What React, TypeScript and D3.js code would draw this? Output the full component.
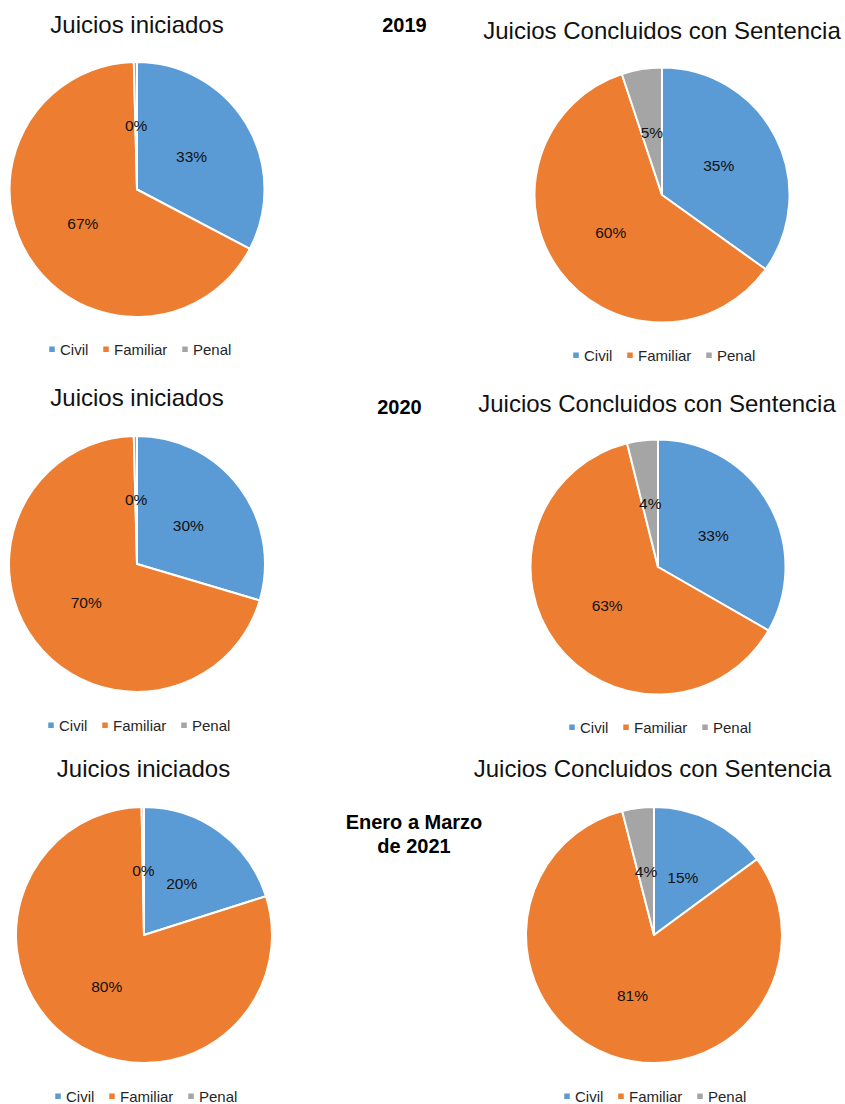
import React from "react";
import * as d3 from "d3";

// ---- Data ----
const categories = ["Civil", "Familiar", "Penal"];
const colors = ["#5B9BD5", "#ED7D31", "#A5A5A5"];

const iniciados2019 = [32.7, 66.9, 0.4];
const concluidos2019 = [34.9, 60.0, 5.1];
const iniciados2020 = [29.6, 70.0, 0.4];
const concluidos2020 = [33.3, 62.8, 3.9];
const iniciados2021 = [20.1, 79.6, 0.3];
const concluidos2021 = [14.9, 81.1, 4.0];

const chartTitles = ["Juicios iniciados", "Juicios Concluidos con Sentencia"];
const periodLabels = [["2019"], ["2020"], ["Enero a Marzo", "de 2021"]];

// ---- Layout ----
const W = 845;
const H = 1104;
const FONT = "'Liberation Sans', Arial, Helvetica, sans-serif";

const panels = [
  { values: iniciados2019, title: 0, cx: 137, cy: 189.5, r: 127.5, tx: 137, ty: 33, lx: 52, ly: 355 },
  { values: concluidos2019, title: 1, cx: 662, cy: 195, r: 127.5, tx: 662, ty: 39, lx: 576, ly: 361 },
  { values: iniciados2020, title: 0, cx: 137, cy: 564, r: 128, tx: 137, ty: 406, lx: 51, ly: 731 },
  { values: concluidos2020, title: 1, cx: 658, cy: 567, r: 127.5, tx: 657, ty: 412, lx: 572, ly: 733 },
  { values: iniciados2021, title: 0, cx: 144, cy: 935, r: 128, tx: 143.5, ty: 777, lx: 58, ly: 1102 },
  { values: concluidos2021, title: 1, cx: 654, cy: 935, r: 128, tx: 652.5, ty: 777, lx: 567, ly: 1102 },
];

const periodPos = [
  { x: 404.5, y: 32 },
  { x: 399.5, y: 414 },
  { x: 414, y: 829 },
];

const legendOffsets = [0, 54, 133];

function Pie({ p }: { p: any }) {
  const pieGen = d3.pie<number>().sort(null).value((d) => d);
  const arcs = pieGen(p.values);
  const arcGen = d3.arc<any>().innerRadius(0).outerRadius(p.r);
  const total = d3.sum(p.values);
  return (
    <g>
      <text
        x={p.tx}
        y={p.ty}
        textAnchor="middle"
        fontSize={24}
        fill="#111"
        fontFamily={FONT}
      >
        {chartTitles[p.title]}
      </text>
      <g transform={`translate(${p.cx},${p.cy})`}>
        {arcs.map((a, i) => (
          <path
            key={i}
            d={arcGen(a) as string}
            fill={colors[i]}
            stroke="#fff"
            strokeWidth={2}
            strokeLinejoin="round"
          />
        ))}
        {arcs.map((a, i) => {
          const [x, y] = arcGen.centroid(a);
          return (
            <text
              key={"l" + i}
              x={x}
              y={y}
              dy="0.35em"
              textAnchor="middle"
              fontSize={15.5}
              fill="#111"
              fontFamily={FONT}
            >
              {Math.round((a.data / total) * 100) + "%"}
            </text>
          );
        })}
      </g>
      <g transform={`translate(${p.lx},${p.ly})`}>
        {categories.map((c, i) => (
          <g key={c} transform={`translate(${legendOffsets[i]},0)`}>
            <rect x={-2.75} y={-8.5} width={5.5} height={5.5} fill={colors[i]} />
            <text x={8} y={0} fontSize={15} fill="#262626" fontFamily={FONT}>
              {c}
            </text>
          </g>
        ))}
      </g>
    </g>
  );
}

export default function App() {
  return (
    <svg
      width={W}
      height={H}
      viewBox={`0 0 ${W} ${H}`}
      style={{ position: "absolute", left: 0, top: 0, background: "#fff" }}
    >
      <rect x={0} y={0} width={W} height={H} fill="#fff" />
      {panels.map((p, i) => (
        <Pie key={i} p={p} />
      ))}
      {periodLabels.map((lines, i) => (
        <text
          key={"p" + i}
          x={periodPos[i].x}
          y={periodPos[i].y}
          textAnchor="middle"
          fontSize={20}
          fontWeight="bold"
          fill="#000"
          fontFamily={FONT}
        >
          {lines.map((ln, j) => (
            <tspan key={j} x={periodPos[i].x} dy={j === 0 ? 0 : 24}>
              {ln}
            </tspan>
          ))}
        </text>
      ))}
    </svg>
  );
}
